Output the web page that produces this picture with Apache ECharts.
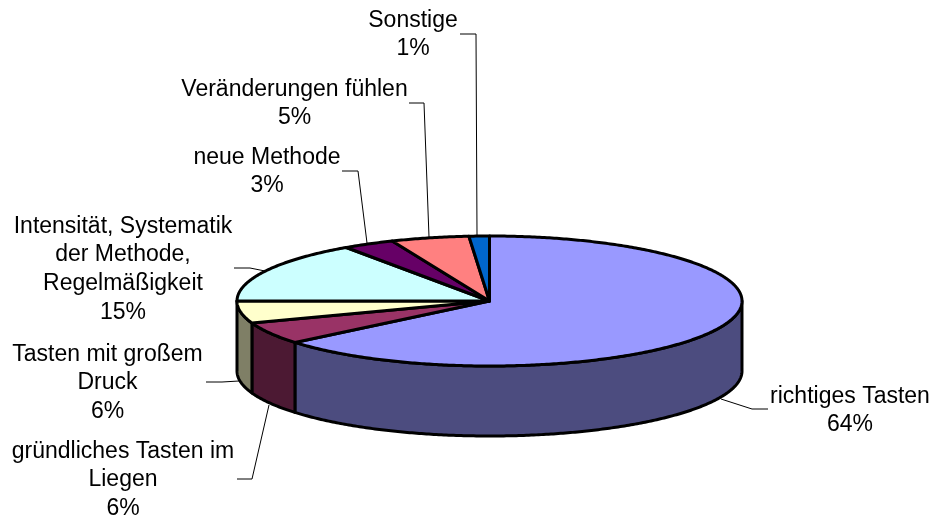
<!DOCTYPE html>
<html>
<head>
<meta charset="utf-8">
<style>
  html,body{margin:0;padding:0;background:#fff;}
  #chart{width:933px;height:518px;}
</style>
</head>
<body>
<div id="chart"></div>
<script src="https://cdn.jsdelivr.net/npm/echarts@6/dist/echarts.min.js"></script>
<script>
// slices, clockwise from 12 o'clock
const categories = ['richtiges Tasten', 'gründliches Tasten im\nLiegen', 'Tasten mit großem\nDruck',
  'Intensität, Systematik\nder Methode,\nRegelmäßigkeit', 'neue Methode', 'Veränderungen fühlen', 'Sonstige'];
const values = [64.0, 5.5, 5.5, 15.4, 3.3, 5.0, 1.3];
const topColors = ['#9999FF', '#993366', '#FFFFCC', '#CCFFFF', '#660066', '#FF8080', '#0066CC'];
const sideColors = ['#4C4C7F', '#4C1933', '#7F7F66', '#667F7F', '#330033', '#7F4040', '#003366'];

// label centres (first line middle) and leader lines, in pixels
const labelPos = [[850, 395], [123, 450], [107.5, 353], [123, 225], [267, 156], [294.5, 88], [413, 19]];
const leaders = [
  [[768, 409], [752, 409], [721, 399]],
  [[237, 479], [252, 479], [269, 405]],
  [[206, 382], [222, 382], [239, 381]],
  [[234, 268], [250, 268], [265, 271]],
  [[342, 171], [358, 171], [367, 243]],
  [[409, 103], [424, 103], [429, 237]],
  [[460, 34], [476, 34], [477, 235]]
];

const cx = 489.5, cy = 301, rx = 252.5, ry = 65, depth = 70;
const total = values.reduce((a, b) => a + b, 0);

function rimPoint(t, dy) {
  return [cx + rx * Math.sin(t), cy + dy - ry * Math.cos(t)];
}

function arcPoints(a, b, dy) {
  const n = Math.max(2, Math.ceil(Math.abs(b - a) / 0.01));
  const pts = [];
  for (let i = 0; i <= n; i++) pts.push(rimPoint(a + (b - a) * i / n, dy));
  return pts;
}

function renderSlice(params, api) {
  const i = params.dataIndex;
  const before = values.slice(0, i).reduce((a, b) => a + b, 0);
  const a0 = before / total * Math.PI * 2;
  const a1 = (before + api.value(0)) / total * Math.PI * 2;
  const children = [];

  // outer wall, only the part facing the viewer
  const s0 = Math.max(a0, Math.PI / 2), s1 = Math.min(a1, Math.PI * 1.5);
  if (s1 > s0) {
    children.push({
      type: 'polygon',
      z2: 1,
      shape: { points: arcPoints(s0, s1, 0).concat(arcPoints(s1, s0, depth)) },
      style: { fill: sideColors[i], stroke: '#000', lineWidth: 3, lineJoin: 'round' }
    });
  }
  // top face
  children.push({
    type: 'polygon',
    z2: 2,
    shape: { points: [[cx, cy]].concat(arcPoints(a0, a1, 0)) },
    style: { fill: topColors[i], stroke: '#000', lineWidth: 3, lineJoin: 'round' }
  });
  children.push({
    type: 'polyline',
    z2: 0,
    shape: { points: leaders[i] },
    style: { fill: null, stroke: '#000', lineWidth: 1 }
  });
  children.push({
    type: 'text',
    z2: 3,
    style: {
      x: labelPos[i][0],
      y: labelPos[i][1] - 13,
      text: categories[i] + '\n' + Math.round(api.value(0)) + '%',
      align: 'center',
      verticalAlign: 'top',
      fill: '#000',
      font: '23px "Liberation Sans", Arial, sans-serif',
      lineHeight: 28.7
    }
  });
  return { type: 'group', children: children };
}

const chart = echarts.init(document.getElementById('chart'));
chart.setOption({
  backgroundColor: '#fff',
  animation: false,
  series: [{
    type: 'custom',
    coordinateSystem: 'none',
    silent: true,
    clip: false,
    renderItem: renderSlice,
    data: values.map((v, i) => ({ name: categories[i], value: [v] }))
  }]
});
</script>
</body>
</html>
